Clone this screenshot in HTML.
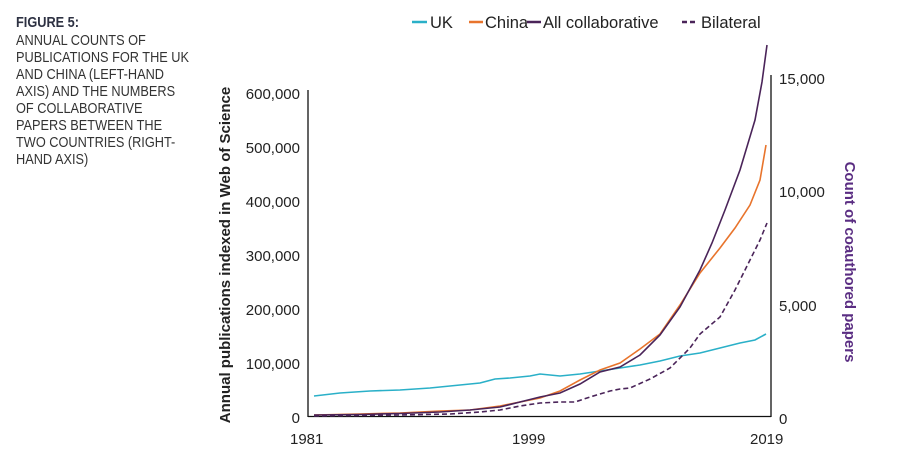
<!DOCTYPE html>
<html><head><style>
body{margin:0;background:#fff;}
</style></head><body>
<svg width="913" height="470" xmlns="http://www.w3.org/2000/svg" font-family="Liberation Sans, sans-serif">
<g font-size="14.5" fill="#333" transform="translate(16,0) scale(0.88,1)">
<text x="0" y="27" font-weight="bold" fill="#2d3142">FIGURE 5:</text>
<text x="0" y="45">ANNUAL COUNTS OF</text>
<text x="0" y="62">PUBLICATIONS FOR THE UK</text>
<text x="0" y="79">AND CHINA (LEFT-HAND</text>
<text x="0" y="96">AXIS) AND THE NUMBERS</text>
<text x="0" y="113">OF COLLABORATIVE</text>
<text x="0" y="130">PAPERS BETWEEN THE</text>
<text x="0" y="147">TWO COUNTRIES (RIGHT-</text>
<text x="0" y="164">HAND AXIS)</text>
</g>
<g font-size="16.5" fill="#222">
<line x1="412" y1="22" x2="427" y2="22" stroke="#2ab0c8" stroke-width="2.5"/><text x="430" y="28">UK</text>
<line x1="469" y1="22" x2="483" y2="22" stroke="#e8742c" stroke-width="2.5"/><text x="485" y="28">China</text>
<line x1="527" y1="22" x2="541" y2="22" stroke="#4a2459" stroke-width="2.5"/><text x="543" y="28">All collaborative</text>
<line x1="682" y1="22" x2="697" y2="22" stroke="#4a2459" stroke-width="2.5" stroke-dasharray="5,3"/><text x="701" y="28">Bilateral</text>
</g>
<g stroke="#111" stroke-width="1.3" fill="none">
<line x1="308" y1="90" x2="308" y2="417"/>
<line x1="308" y1="416.5" x2="771" y2="416.5"/>
<line x1="771" y1="75" x2="771" y2="417"/>
</g>
<g font-size="15" fill="#222" text-anchor="end">
<text x="300" y="99">600,000</text>
<text x="300" y="153">500,000</text>
<text x="300" y="207">400,000</text>
<text x="300" y="261">300,000</text>
<text x="300" y="315">200,000</text>
<text x="300" y="369">100,000</text>
<text x="300" y="423">0</text>
</g>
<g font-size="15" fill="#222">
<text x="779" y="84">15,000</text>
<text x="779" y="197">10,000</text>
<text x="779" y="311">5,000</text>
<text x="779" y="424">0</text>
<text x="290" y="444">1981</text>
<text x="512" y="444">1999</text>
<text x="750" y="444">2019</text>
</g>
<text transform="translate(230,255) rotate(-90)" text-anchor="middle" font-size="15" font-weight="bold" fill="#222">Annual publications indexed in Web of Science</text>
<text transform="translate(845,262) rotate(90)" text-anchor="middle" font-size="15" font-weight="bold" fill="#5a2d82">Count of coauthored papers</text>
<g fill="none" stroke-width="1.6">
<polyline stroke="#2ab0c8" points="314,396 340,393 370,391 400,390 430,388 460,385 480,383 495,379 510,378 530,376 540,374 550,375 560,376 580,374 600,371 620,368 640,365 660,361 680,356 700,353 720,348 740,343 755,340 766,334"/>
<polyline stroke="#e8742c" points="314,415 360,414 400,413 440,411 470,410 500,406 520,402 540,398 560,391 580,380 600,370 620,363 640,349 660,334 680,305 700,273 720,248 735,228 750,205 760,180 766,145"/>
<polyline stroke="#4a2459" points="314,415 360,414.5 400,413.5 440,412 470,410 500,407 520,402 540,397 560,393 580,384 600,372 620,367 640,355 660,335 680,307 700,270 712,243 725,210 740,170 755,120 762,82 767,45"/>
<polyline stroke="#4a2459" stroke-dasharray="5,3" points="314,416 400,415 450,414 480,412 500,410 520,406 540,403 560,402 575,402 590,397 610,391 620,389 630,388 650,379 670,368 690,348 700,334 720,317 735,290 750,260 760,240 767,223"/>
</g>
</svg>
</body></html>
